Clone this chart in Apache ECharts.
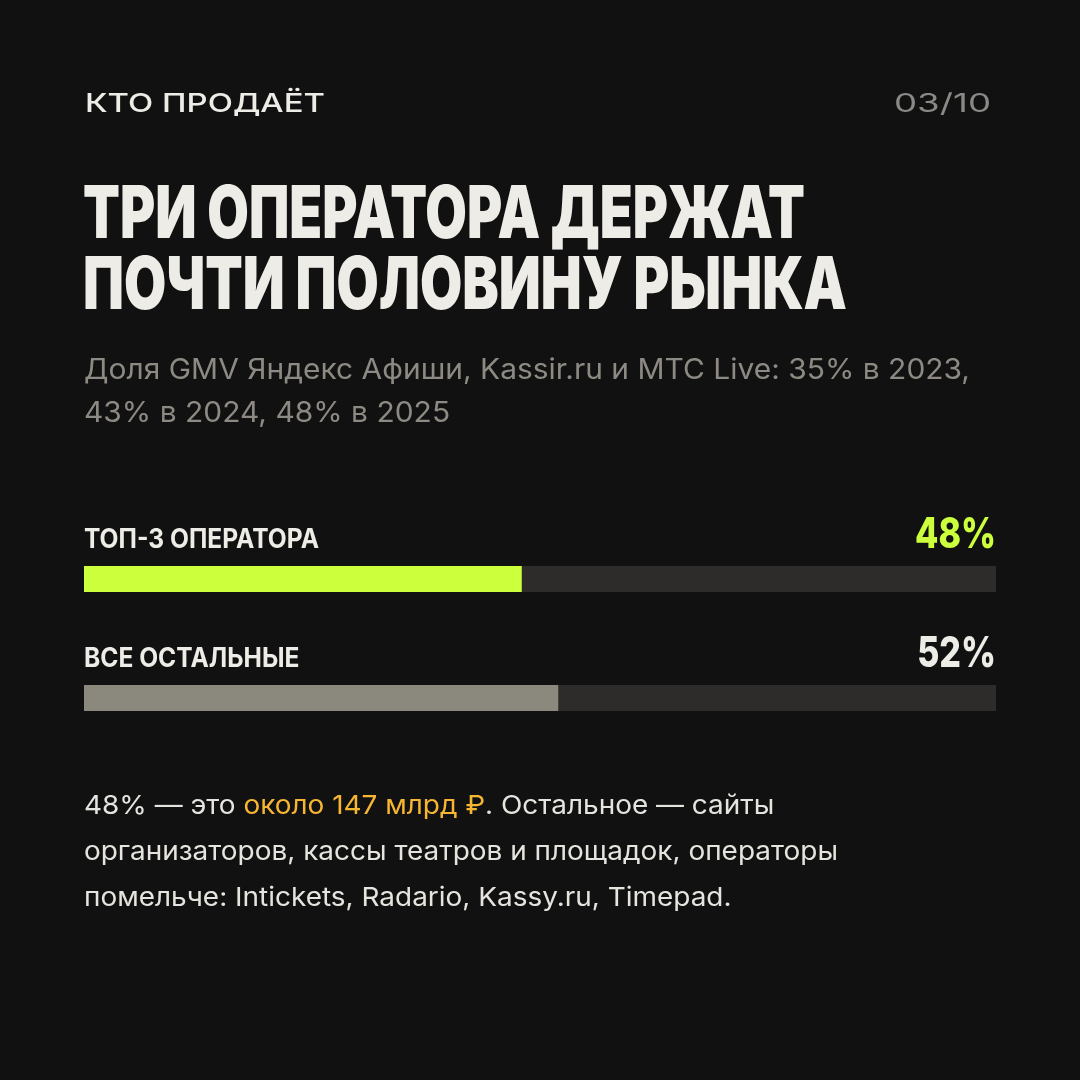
<!DOCTYPE html>
<html><head><meta charset="utf-8">
<script src="https://cdn.jsdelivr.net/npm/echarts@6/dist/echarts.min.js"></script>
<style>html,body{margin:0;padding:0;background:#111111;}#c{width:1080px;height:1080px;}</style>
</head><body><div id="c"></div>
<script>
// ---- data ----
const categories = ['ТОП-3 ОПЕРАТОРА', 'ВСЕ ОСТАЛЬНЫЕ'];
const shares = [48, 52];
const TOTAL = 100;
const kicker = 'КТО ПРОДАЁТ';
const pageNo = '03/10';
const titleLines = ['ТРИ ОПЕРАТОРА ДЕРЖАТ', 'ПОЧТИ ПОЛОВИНУ РЫНКА'];
const subtitleLines = ['Доля GMV Яндекс Афиши, Kassir.ru и МТС Live: 35% в 2023,', '43% в 2024, 48% в 2025'];
const noteLines = [
  [['48% — это ', 'w'], ['около 147 млрд ₽', 'o'], ['. Остальное — сайты', 'w']],
  [['организаторов, кассы театров и площадок, операторы', 'w']],
  [['помельче: Intickets, Radario, Kassy.ru, Timepad.', 'w']]
];

// ---- style ----
const BG = '#111111';
const FG = '#eeece6';
const MUTED = '#8c8a82';
const LIME = '#ccff3c';
const GREYBAR = '#8b887e';
const TRACK = '#2e2c2a';
const ORANGE = '#f6b632';
const FAM = 'Inter, "Liberation Sans", "DejaVu Sans", sans-serif';
const barColors = [LIME, GREYBAR];
const pctColors = [LIME, FG];

const mctx = document.createElement('canvas').getContext('2d');
function measure(text, size, weight) {
  mctx.font = weight + ' ' + size + 'px ' + FAM;
  return mctx.measureText(text).width;
}
function txt(text, x, y, size, weight, fill, align, scaleX) {
  return {
    type: 'text', x: x, y: y, scaleX: scaleX || 1, silent: true,
    style: { text: text, fill: fill, fontSize: size, fontWeight: weight, fontFamily: FAM,
             align: align || 'left', verticalAlign: 'middle' }
  };
}
// cap-centre -> middle-baseline offset
function cy(capCentre, size) { return capCentre + 0.06 * size; }

const chart = echarts.init(document.getElementById('c'), null, { renderer: 'canvas' });

chart.setOption({
  backgroundColor: BG,
  animation: false,
  grid: { left: 84, right: 84, top: 519.5, bottom: 322.5, containLabel: false },
  xAxis: { type: 'value', min: 0, max: TOTAL, show: false },
  yAxis: { type: 'category', data: categories, inverse: true, show: false },
  series: [{
    type: 'bar',
    data: shares.map((v, i) => ({ value: v, itemStyle: { color: barColors[i] } })),
    barWidth: 26,
    showBackground: true,
    backgroundStyle: { color: TRACK },
    silent: true
  }]
});

const g = [];
// header
{
  const s = 26;
  const k = 240 / measure(kicker, s, 500);
  g.push(txt(kicker, 85, cy(102.5, s), s, 500, FG, 'left', k));
  const p = 97 / measure(pageNo, s, 400);
  g.push(txt(pageNo, 991, cy(102.5, s), s, 400, '#8a8986', 'right', p));
}
// title
{
  const s = 73;
  const k1 = 722 / measure(titleLines[0], s, 900);
  const k2 = 764 / measure(titleLines[1], s, 900);
  g.push(txt(titleLines[0], 83, cy(211.5, s), s, 900, FG, 'left', k1));
  g.push(txt(titleLines[1], 83, cy(283, s), s, 900, FG, 'left', k2));
}
// subtitle
{
  const s = 28;
  const k = 886 / measure(subtitleLines[0], s, 400);
  g.push(txt(subtitleLines[0], 84, cy(369, s), s, 400, MUTED, 'left', k));
  g.push(txt(subtitleLines[1], 84, cy(412, s), s, 400, MUTED, 'left', k));
}
// bar labels, positioned from the chart's scales
{
  const sl = 27, sp = 43;
  const kl = 235 / measure(categories[0], sl, 700);
  const kp = 81 / measure(shares[0] + '%', sp, 800);
  categories.forEach((c, i) => {
    const left = chart.convertToPixel({ gridIndex: 0 }, [0, i]);
    const right = chart.convertToPixel({ gridIndex: 0 }, [TOTAL, i]);
    const barTop = left[1] - 13;
    const base = barTop - 18;
    g.push(txt(c, left[0], cy(base - 10, sl), sl, 700, FG, 'left', kl));
    g.push(txt(shares[i] + '%', right[0], cy(base - 15.5, sp), sp, 800, pctColors[i], 'right', kp));
  });
}
// footnote
{
  const s = 26;
  const plain = noteLines[1].map(t => t[0]).join('');
  const k = 754 / measure(plain, s, 400);
  const centres = [804.5, 850.5, 896.5];
  noteLines.forEach((line, i) => {
    const text = line.map(t => '{' + t[1] + '|' + t[0] + '}').join('');
    g.push({
      type: 'text', x: 84, y: cy(centres[i], s), scaleX: k, silent: true,
      style: {
        text: text, fontSize: s, fontFamily: FAM, align: 'left', verticalAlign: 'middle',
        rich: {
          w: { fill: '#e6e4de', fontSize: s, fontFamily: FAM, fontWeight: 400 },
          o: { fill: ORANGE, fontSize: s, fontFamily: FAM, fontWeight: 400 }
        }
      }
    });
  });
}
chart.setOption({ graphic: g });
</script></body></html>
